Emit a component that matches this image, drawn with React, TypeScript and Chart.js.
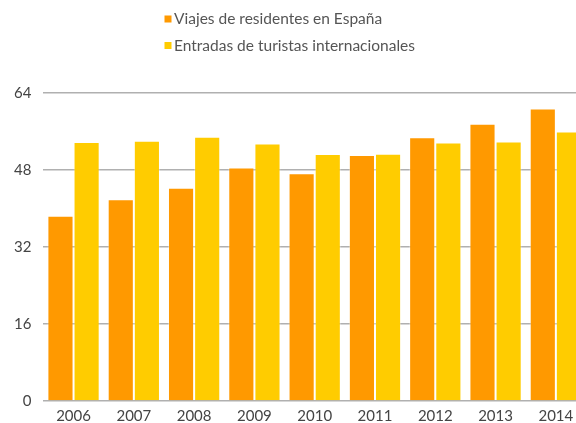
import React, { useEffect, useRef } from "react";
import { Chart, registerables } from "chart.js";

Chart.register(...registerables);

const categories = ["2006", "2007", "2008", "2009", "2010", "2011", "2012", "2013", "2014"];
const residentes = [38.5, 41.9, 44.3, 48.5, 47.3, 51.1, 54.8, 57.6, 60.8];
const turistas = [53.8, 54.1, 54.9, 53.5, 51.3, 51.4, 53.7, 53.9, 56.0];
const seriesLabels = ["Viajes de residentes en España", "Entradas de turistas internacionales"];
const yTicks = [0, 16, 32, 48, 64];

const ORANGE = "#FF9900";
const YELLOW = "#FFCC00";
const FONT = "Lato, 'Open Sans', sans-serif";

const legendPlugin = {
  id: "customLegend",
  afterDraw(chart: any) {
    const ctx = chart.ctx;
    const rows = [19, 45.5];
    const x0 = 164.5;
    ctx.save();
    chart.data.datasets.forEach((ds: any, i: number) => {
      const cy = rows[i];
      ctx.fillStyle = ds.backgroundColor;
      ctx.fillRect(x0, cy - 3.5, 7, 7);
      ctx.fillStyle = "#555555";
      ctx.font = "15.5px " + FONT;
      ctx.textBaseline = "middle";
      ctx.textAlign = "left";
      ctx.fillText(ds.label, x0 + 9.5, cy);
    });
    ctx.restore();
  },
};

export default function App() {
  const ref = useRef<HTMLCanvasElement | null>(null);
  useEffect(() => {
    document.body.style.overflow = "hidden";
    const chart = new Chart(ref.current as HTMLCanvasElement, {
      type: "bar",
      data: {
        labels: categories,
        datasets: [
          {
            label: seriesLabels[0],
            data: residentes,
            backgroundColor: ORANGE,
            borderColor: "rgba(255,255,255,0.35)",
            borderWidth: 1,
            categoryPercentage: 0.867,
            barPercentage: 1.0,
          },
          {
            label: seriesLabels[1],
            data: turistas,
            backgroundColor: YELLOW,
            borderColor: "rgba(255,255,255,0.35)",
            borderWidth: 1,
            categoryPercentage: 0.867,
            barPercentage: 1.0,
          },
        ],
      },
      options: {
        responsive: false,
        animation: false,
        devicePixelRatio: 1,
        layout: { padding: { top: 93, left: 2, right: 0, bottom: 0 } },
        plugins: {
          legend: { display: false },
          tooltip: { enabled: false },
        },
        scales: {
          x: {
            grid: { display: false, drawTicks: false },
            border: { display: false },
            ticks: { color: "#444444", font: { family: FONT, size: 15 }, padding: 6, maxRotation: 0 },
          },
          y: {
            min: 0,
            max: 64,
            afterBuildTicks: (axis: any) => {
              axis.ticks = yTicks.map((v) => ({ value: v }));
            },
            grid: { color: "#b0b0b0", lineWidth: 1.5, drawTicks: false },
            border: { display: false },
            ticks: { color: "#444444", font: { family: FONT, size: 15 }, padding: 12 },
          },
        },
      },
      plugins: [legendPlugin],
    });
    return () => chart.destroy();
  }, []);
  return (
    <div style={{ position: "fixed", left: 0, top: 0, width: 576, height: 423, overflow: "hidden", background: "#fff" }}>
      <canvas ref={ref} width={586} height={431} style={{ display: "block", width: 586, height: 431 }} />
    </div>
  );
}
